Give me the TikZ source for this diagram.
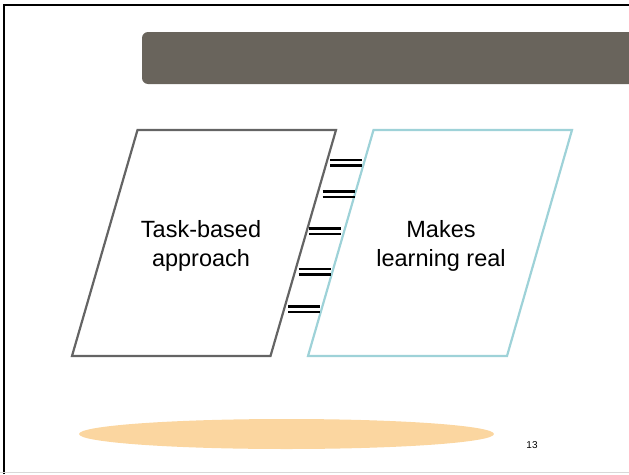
\documentclass[tikz,border=0pt]{standalone}
\usepackage{fontspec}
\setmainfont{Liberation Sans}
\definecolor{barcol}{HTML}{69645C}
\definecolor{leftcol}{HTML}{646464}
\definecolor{rightcol}{HTML}{9ED2D8}
\definecolor{ovalcol}{HTML}{FBD6A0}
\definecolor{footline}{HTML}{D8D8D8}
\begin{document}
\begin{tikzpicture}[x=1pt,y=-1pt,
  para/.style={line width=2.2pt, line join=miter},
  eqline/.style={line width=2.4pt, black},
  lbl/.style={font=\fontsize{23.5}{29}\selectfont, align=center, inner sep=0pt}]
\useasboundingbox (0,0) rectangle (629,474);
% frame
\draw[black, line width=1.5pt] (4,474) -- (4,5) -- (629,5);
\draw[footline, line width=1pt] (0,472.5) -- (629,472.5);
% title bar
\fill[barcol, rounded corners=6pt] (142,32) rectangle (660,84);
% parallelograms
\coordinate (L1) at (137.5,130); \coordinate (L2) at (336,130);
\coordinate (L3) at (270.5,356); \coordinate (L4) at (72,356);
\coordinate (R1) at (373.5,130); \coordinate (R2) at (572,130);
\coordinate (R3) at (507,356); \coordinate (R4) at (308,356);
\draw[para, rightcol] (R1) -- (R2) -- (R3) -- (R4) -- cycle;
\draw[para, leftcol] (L1) -- (L2) -- (L3) -- (L4) -- cycle;
% equal signs
\foreach \xa/\ya in {330/160, 322.5/191.5, 309/228.5, 298.5/269, 288/306.5}{
  \draw[eqline] (\xa,\ya) -- ++(32,0);
  \draw[eqline] (\xa,\ya+5.5) -- ++(32,0);
}
% labels
\node[lbl] (task) at (201,246) {Task-based\\approach};
\node[lbl] (makes) at (441,246) {Makes\\learning real};
% oval
\fill[ovalcol] (286.5,434) ellipse [x radius=207.5, y radius=15];
\node[font=\fontsize{10}{12}\selectfont, inner sep=0pt] (pg) at (532,445) {13};
\end{tikzpicture}
\end{document}
